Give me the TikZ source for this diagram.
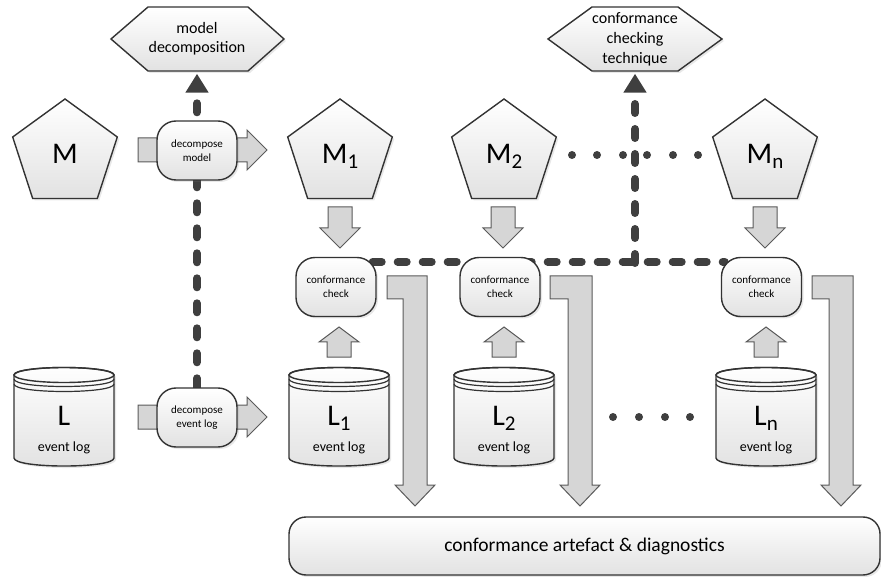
\documentclass[tikz,border=0pt]{standalone}
\usepackage{fontspec}
\setmainfont{Carlito}
\usetikzlibrary{shapes.geometric,arrows.meta,calc,shadows}
\definecolor{edgec}{HTML}{333333}
\definecolor{dashcol}{HTML}{3F3F3F}
\definecolor{arrfill}{HTML}{D6D6D6}
\definecolor{arredge}{HTML}{5A5A5A}
\definecolor{shadeb}{HTML}{E2E2E2}
\pgfdeclarelayer{background}
\pgfsetlayers{background,main}
\newcommand\sbs[1]{\raisebox{-5pt}[0pt][0pt]{\fontsize{21}{21}\selectfont #1}}
\newcommand\harr[4]{\draw[blk] (#1,#4-12) -- (#2,#4-12) -- (#2,#4-20) -- (#3,#4) -- (#2,#4+20) -- (#2,#4+12) -- (#1,#4+12) -- cycle;}
\newcommand\varr[4]{\draw[blk] (#1-12,#2) -- (#1-12,#3) -- (#1-20,#3) -- (#1,#4) -- (#1+20,#3) -- (#1+12,#3) -- (#1+12,#2) -- cycle;}
\newcommand\larr[2]{\draw[blk] (#1,276) -- (#2+24,276) -- (#2+24,485) -- (#2+32,485) -- (#2+12,506) -- (#2-8,485) -- (#2,485) -- (#2,299) -- (#1,299) -- cycle;}
\newcommand\cyl[3]{%
  \path[shp] (#2-50,375) -- (#2-50,458) .. controls (#2-50,468.7) and (#2+50,468.7) .. (#2+50,458) -- (#2+50,375) .. controls (#2+50,365) and (#2-50,365) .. cycle;
  \draw[draw=edgec,line width=1.4pt] (#2,375) ellipse [x radius=50pt,y radius=7.5pt];
  \draw[draw=edgec,line width=1.2pt] (#2-50,379) .. controls (#2-50,389) and (#2+50,389) .. (#2+50,379);
  \draw[draw=edgec,line width=1.2pt] (#2-50,384) .. controls (#2-50,394) and (#2+50,394) .. (#2+50,384);
  \node[minimum width=100pt,minimum height=100pt,inner sep=0pt] (#1) at (#2,417) {};
  \node[font=\fontsize{30}{30}\selectfont,anchor=base] (#1t) at (#2,425) {L#3};
  \node[font=\fontsize{14}{14}\selectfont,anchor=base] (#1e) at (#2,451) {event log};
}
\begin{document}
\begin{tikzpicture}[x=1pt,y=-1pt,
  shp/.style={draw=edgec,line width=1.4pt,top color=white,bottom color=shadeb,drop shadow={opacity=0.18,shadow xshift=2pt,shadow yshift=-2pt}},
  pent/.style={shp,regular polygon,regular polygon sides=5,minimum size=110pt,inner sep=0pt,font=\fontsize{30}{30}\selectfont},
  rbox/.style={shp,rectangle,rounded corners=19pt,minimum width=80pt,minimum height=59pt,inner sep=0pt,align=center,font=\fontsize{11}{14}\selectfont},
  blk/.style={fill=arrfill,draw=arredge,line width=1pt,line join=miter},
  dashline/.style={draw=dashcol,line width=8pt,line cap=round,dash pattern=on 9pt off 16pt},
  dotmark/.style={circle,fill=dashcol,minimum size=8pt,inner sep=0pt},
  hexlbl/.style={minimum width=173pt,minimum height=63pt,inner sep=0pt,align=center,font=\fontsize{16}{19}\selectfont},
  tipa/.style={-{Triangle[width=22pt,length=19pt]},shorten >=3pt},
]
\useasboundingbox (0,0) rectangle (881,577);

% hexagons
\path[shp] (111,39) -- (148,7) -- (248,7) -- (284,39) -- (248,71) -- (148,71) -- cycle;
\node[hexlbl] (hex1) at (197,39) {model\\decomposition};
\path[shp] (548,39) -- (592,7) -- (678,7) -- (722,39) -- (678,71) -- (592,71) -- cycle;
\node[hexlbl,minimum width=174pt,font=\fontsize{16}{20}\selectfont] (hex2) at (635,39) {conformance\\checking\\technique};

% block arrows
\harr{138}{247}{267}{150}
\harr{138}{247}{267}{417}
\varr{340}{207}{228}{248}
\varr{503}{207}{228}{248}
\varr{765}{207}{228}{248}
\varr{339}{357}{342}{327}
\varr{504}{357}{342}{327}
\varr{766}{357}{342}{327}
\larr{387}{403}
\larr{550}{568}
\larr{812}{829}

% pentagons
\node[pent] (M) at (65,154) {M};
\node[pent] (M1) at (340,154) {M\sbs{1}};
\node[pent] (M2) at (504,154) {M\sbs{2}};
\node[pent] (Mn) at (765,154) {M\sbs{n}};

% boxes
\node[rbox] (dm) at (197,150.5) {decompose\\model};
\node[rbox] (del) at (197,417.5) {decompose\\event log};
\node[rbox] (cc1) at (336,287) {conformance\\check};
\node[rbox] (cc2) at (500,287) {conformance\\check};
\node[rbox] (ccn) at (761.5,287) {conformance\\check};

% cylinders
\cyl{L}{64}{}
\cyl{L1}{339}{\sbs{1}}
\cyl{L2}{504}{\sbs{2}}
\cyl{Ln}{766}{\sbs{n}}

% result box
\node[shp,rectangle,rounded corners=17pt,minimum width=591pt,minimum height=58pt,inner sep=0pt,font=\fontsize{19.5}{20}\selectfont] (res) at (584.5,546) {conformance artefact \& diagnostics};

% dots
\foreach \x in {572,597,623,647,673,698} \node[dotmark] (md\x) at (\x,155) {};
\foreach \x in {613,639,665,690} \node[dotmark] (ld\x) at (\x,417) {};

% dashed connectors
\begin{pgfonlayer}{background}
\draw[dashline,tipa] (del.north) -- (hex1.south);
\coordinate (jn) at (635,263);
\draw[dashline] ($(cc1.north east)+(-4,5)$) -- ($(ccn.north west)+(4,5)$);
\draw[dashline,tipa] (jn) -- (hex2.south);
\end{pgfonlayer}
\end{tikzpicture}
\end{document}
